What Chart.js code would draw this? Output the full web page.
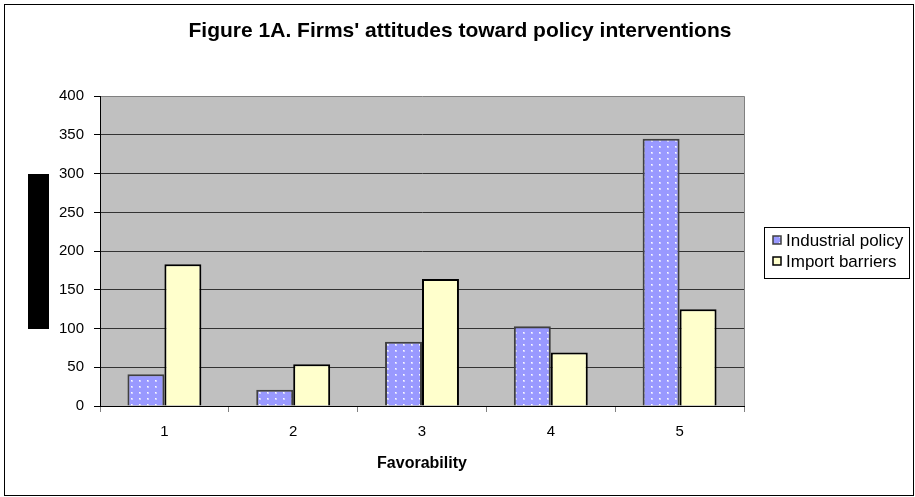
<!DOCTYPE html>
<html>
<head>
<meta charset="utf-8">
<script src="https://cdn.jsdelivr.net/npm/chart.js@4/dist/chart.umd.min.js"></script>
<style>
  html, body { margin: 0; padding: 0; background: #ffffff; }
  #wrap { width: 915px; height: 497px; position: relative; }
</style>
</head>
<body>
<div id="wrap"><canvas id="c" width="915" height="497"></canvas></div>
<script>
// Survey counts by favorability score (1 = least favorable, 5 = most favorable)
const categories = ['1', '2', '3', '4', '5'];
const industrialPolicy = [41, 21, 83, 103, 345];
const importBarriers = [183, 54, 164, 69, 125];
const seriesNames = ['Industrial policy', 'Import barriers'];
const chartTitle = "Figure 1A. Firms' attitudes toward policy interventions";
const xAxisTitle = 'Favorability';
const yMin = 0, yMax = 400, yStep = 50;

const FONT = "'Liberation Sans', Arial, Helvetica, sans-serif";

// Periwinkle fill with a fine grid of light dots
function dottedFill() {
  const p = document.createElement('canvas');
  p.width = 8; p.height = 6;
  const g = p.getContext('2d');
  g.fillStyle = '#9999FF';
  g.fillRect(0, 0, 8, 6);
  g.fillStyle = 'rgba(255,255,255,0.55)';
  g.fillRect(3, 2, 2, 2);
  g.fillStyle = 'rgba(255,255,255,0.9)';
  g.fillRect(3, 2, 1, 1);
  return g.createPattern(p, 'repeat');
}

const ctx = document.getElementById('c').getContext('2d');

// Gray plotting area plus its right-hand frame
const plotBackground = {
  id: 'plotBackground',
  beforeDraw(chart) {
    const { ctx, chartArea: a } = chart;
    ctx.save();
    ctx.fillStyle = '#C0C0C0';
    ctx.fillRect(a.left, a.top, a.right - a.left, a.bottom - a.top);
    ctx.restore();
  },
  afterDatasetsDraw(chart) {
    const { ctx, chartArea: a } = chart;
    ctx.save();
    ctx.strokeStyle = '#808080';
    ctx.lineWidth = 1;
    ctx.beginPath();
    ctx.moveTo(Math.round(a.right) + 0.5, a.top);
    ctx.lineTo(Math.round(a.right) + 0.5, a.bottom);
    ctx.stroke();
    ctx.restore();
  }
};

// Outer frame, blacked-out axis caption and boxed legend
const decorations = {
  id: 'decorations',
  afterDraw(chart) {
    const c = chart.ctx;
    c.save();
    c.strokeStyle = '#000';
    c.lineWidth = 1;
    c.strokeRect(4.5, 4.5, 909, 491);

    c.fillStyle = '#000';
    c.fillRect(28, 174, 21, 155);

    // legend box
    const bx = 764, by = 227, bw = 145, bh = 51;
    c.strokeRect(bx + 0.5, by + 0.5, bw, bh);
    c.font = '17px ' + FONT;
    c.textBaseline = 'middle';
    c.textAlign = 'left';
    chart.data.datasets.forEach((ds, i) => {
      const cy = by + 13 + i * 21;
      c.fillStyle = ds.backgroundColor;
      c.fillRect(bx + 9, cy - 4, 8, 8);
      c.strokeStyle = ds.borderColor;
      c.lineWidth = 1.5;
      c.strokeRect(bx + 9, cy - 4, 8, 8);
      c.fillStyle = '#000';
      c.fillText(ds.label, bx + 22, cy + 1);
    });
    c.restore();
  }
};

new Chart(ctx, {
  type: 'bar',
  data: {
    labels: categories,
    datasets: [
      {
        label: seriesNames[0],
        data: industrialPolicy,
        backgroundColor: dottedFill(),
        borderColor: '#404040',
        borderWidth: 2,
        categoryPercentage: 0.574,
        barPercentage: 1.0
      },
      {
        label: seriesNames[1],
        data: importBarriers,
        backgroundColor: '#FFFFCC',
        borderColor: '#000000',
        borderWidth: 2,
        categoryPercentage: 0.574,
        barPercentage: 1.0
      }
    ]
  },
  options: {
    responsive: false,
    animation: false,
    layout: { padding: { left: 5, right: 0, top: 0, bottom: 0 } },
    plugins: {
      legend: { display: false },
      tooltip: { enabled: false },
      title: {
        display: true,
        text: chartTitle,
        color: '#000',
        font: { family: FONT, size: 21, weight: 'bold' },
        padding: { top: 19, bottom: 52 }
      }
    },
    scales: {
      x: {
        grid: { display: true, drawOnChartArea: false, offset: true, tickLength: 6, tickColor: '#808080' },
        border: { display: true, color: '#000', width: 1 },
        ticks: { color: '#000', font: { family: FONT, size: 15 }, padding: 11 },
        title: {
          display: true,
          text: xAxisTitle,
          color: '#000',
          font: { family: FONT, size: 16, weight: 'bold' },
          padding: { top: 0, bottom: 24 }
        },
        afterFit(scale) { scale.height = 91; }
      },
      y: {
        min: yMin,
        max: yMax,
        ticks: { stepSize: yStep, color: '#000', font: { family: FONT, size: 15 }, padding: 10 },
        grid: {
          color: (c) => (c.tick && c.tick.value === yMax ? '#808080' : '#333333'),
          tickLength: 6,
          tickColor: '#000'
        },
        border: { display: true, color: '#000', width: 1 },
        afterFit(scale) { scale.width = 95; }
      },
      // empty right-hand band that holds the legend
      legendBand: {
        type: 'linear',
        position: 'right',
        display: true,
        grid: { display: false, drawTicks: false },
        border: { display: false },
        ticks: { display: false },
        afterFit(scale) { scale.width = 171; }
      }
    }
  },
  plugins: [plotBackground, decorations]
});
</script>
</body>
</html>
